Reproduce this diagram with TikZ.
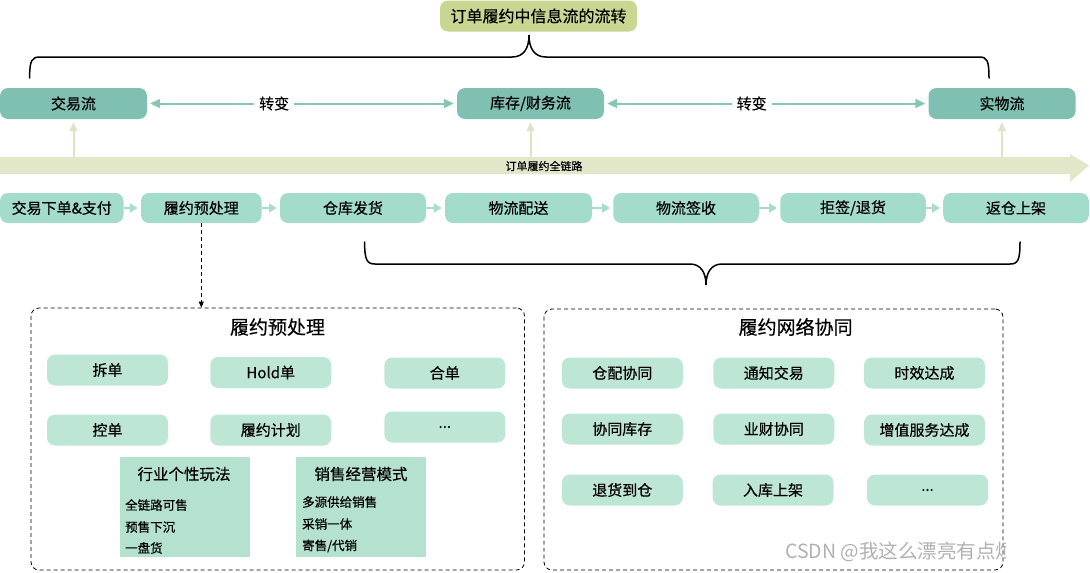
\documentclass[tikz,border=0pt]{standalone}
\usepackage{fontspec}
\setmainfont{Noto Sans CJK SC}[FakeBold=0.4]
\newfontfamily\wmfont{Noto Sans CJK SC}
\usetikzlibrary{arrows.meta, positioning}

\definecolor{titleolive}{HTML}{C8D692}
\definecolor{flowdark}{HTML}{80C0B2}
\definecolor{proclight}{HTML}{A4DCCB}
\definecolor{itemlight}{HTML}{BEE6D5}
\definecolor{panelgreen}{HTML}{B4E2CF}
\definecolor{arrowteal}{HTML}{86C6B6}
\definecolor{procarrowc}{HTML}{A8DCCE}
\definecolor{barolive}{HTML}{E2E7C9}
\definecolor{baruparrowc}{HTML}{DEE4C4}
\definecolor{wmgray}{HTML}{B0B0B0}

\begin{document}
\begin{tikzpicture}[x=1pt, y=-1pt,
    flowbox/.style={fill=flowdark, rounded corners=8pt, minimum width=147pt, minimum height=31pt, inner sep=0pt, font=\fontsize{15}{18}\selectfont},
    procbox/.style={fill=proclight, rounded corners=8pt, minimum height=30pt, inner sep=0pt, font=\fontsize{15}{18}\selectfont},
    itembox/.style={fill=itemlight, rounded corners=8pt, minimum width=121pt, minimum height=31pt, inner sep=0pt, font=\fontsize{15}{18}\selectfont},
    groupbox/.style={draw, line width=0.8pt, dash pattern=on 4pt off 3pt, rounded corners=8pt, inner sep=0pt},
    subpanel/.style={fill=panelgreen, minimum width=130pt, minimum height=100pt, inner sep=0pt},
    grouptitle/.style={font=\fontsize{19}{22}\selectfont, inner sep=0pt},
    subtitle/.style={font=\fontsize{15.5}{18}\selectfont, inner sep=0pt},
    listtext/.style={anchor=west, font=\fontsize{12.5}{14}\selectfont, inner sep=0pt},
    flowarrow/.style={draw=arrowteal, line width=2pt, {Triangle[length=10pt,width=9pt]}-{Triangle[length=10pt,width=9pt]}, shorten <=3pt, shorten >=3pt},
    procarrow/.style={draw=procarrowc, line width=2pt, -{Triangle[length=8pt,width=9pt]}, shorten >=3pt},
    uparrow/.style={draw=baruparrowc, line width=2pt, -{Triangle[length=9pt,width=8pt]}, shorten >=3pt},
    brace/.style={line width=1.5pt, line cap=round}]

    \useasboundingbox (0,0) rectangle (1090,573);

    % Title
    \node[fill=titleolive, rounded corners=8pt, minimum width=197pt, minimum height=31pt, inner sep=0pt, font=\fontsize{16}{18}\selectfont] (title) at (538.5,16) {订单履约中信息流的流转};

    % Top brace
    \draw[brace] (29.6,78) .. controls (29.6,60) and (32,57) .. (40,57) -- (512,57)
        .. controls (524,57) and (529,48) .. (529,35)
        .. controls (529,48) and (534,57) .. (546,57) -- (979,57)
        .. controls (987,57) and (989,60) .. (989,78);

    % Three flows
    \node[flowbox] (jyl) at (73.5,103.5) {交易流};
    \node[flowbox] (kcl) at (530.5,103.5) {库存/财务流};
    \node[flowbox] (swl) at (1002,103.5) {实物流};

    \draw[flowarrow] (jyl) -- node[pos=0.41, fill=white, inner xsep=5pt, inner ysep=1pt, font=\fontsize{15}{18}\selectfont] (zb1) {转变} (kcl);
    \draw[flowarrow] (kcl) -- node[pos=0.455, fill=white, inner xsep=5pt, inner ysep=1pt, font=\fontsize{15}{18}\selectfont] (zb2) {转变} (swl);

    % Full chain bar
    \fill[barolive] (0,157) -- (1070,157) -- (1070,154) -- (1089,165.5) -- (1070,182) -- (1070,174) -- (0,174) -- cycle;
    \coordinate (bartop) at (0,157);
    \node[font=\fontsize{11}{12}\selectfont, inner sep=0pt] (barlabel) at (544,166) {订单履约全链路};

    \foreach \n in {jyl, kcl, swl}
    {
        \draw[uparrow] (\n.south |- bartop) -- (\n.south);
    }

    % Process steps
    \node[procbox, minimum width=123.5pt] (p1) at (61.75,208) {交易下单\&支付};
    \node[procbox, minimum width=120.6pt] (p2) at (201.3,208) {履约预处理};
    \node[procbox, minimum width=146pt] (p3) at (353,208) {仓库发货};
    \node[procbox, minimum width=147pt] (p4) at (518.5,208) {物流配送};
    \node[procbox, minimum width=145.5pt] (p5) at (686,208) {物流签收};
    \node[procbox, minimum width=145.5pt] (p6) at (853,208) {拒签/退货};
    \node[procbox, minimum width=145.6pt] (p7) at (1016,208) {返仓上架};

    \foreach \a/\b in {p1/p2, p2/p3, p3/p4, p4/p5, p5/p6, p6/p7}
    {
        \draw[procarrow] (\a) -- (\b);
    }

    % Bottom brace
    \draw[brace] (364.6,242) .. controls (364.6,260) and (367,264) .. (375,264) -- (690,264)
        .. controls (701,264) and (706,273) .. (706,285)
        .. controls (706,273) and (711,264) .. (722,264) -- (1010,264)
        .. controls (1018,264) and (1020,260) .. (1020,242);

    % Pre-processing group
    \node[groupbox, minimum width=493.5pt, minimum height=262pt] (prep) at (277.75,439) {};
    \node[grouptitle] (prept) at (277.5,327) {履约预处理};
    \draw[line width=0.8pt, dash pattern=on 4pt off 3pt, -{Triangle[length=6pt,width=5pt]}] (p2.south) -- (p2.south |- prep.north);

    \node[itembox] (cd) at (107.5,370) {拆单};
    \node[itembox] (hd) at (270.75,372.5) {Hold单};
    \node[itembox] (hb) at (444.8,373) {合单};
    \node[itembox] (kd) at (107.5,430) {控单};
    \node[itembox] (jh) at (270.75,430) {履约计划};
    \node[itembox] (more1) at (444.8,427) {...};

    \node[subpanel] (hy) at (184.85,507) {};
    \node[subtitle] (hyt) at (184,474) {行业个性玩法};
    \node[listtext] (hy1) at (125,505) {全链路可售};
    \node[listtext] (hy2) at (125,527) {预售下沉};
    \node[listtext] (hy3) at (125,548) {一盘货};

    \node[subpanel] (xs) at (361,507) {};
    \node[subtitle] (xst) at (361,474) {销售经营模式};
    \node[listtext] (xs1) at (302,502) {多源供给销售};
    \node[listtext] (xs2) at (302,524) {采销一体};
    \node[listtext] (xs3) at (302,546) {寄售/代销};

    % Network collaboration group
    \node[groupbox, minimum width=459pt, minimum height=261pt] (net) at (773.5,439.5) {};
    \node[grouptitle] (nett) at (795.6,327) {履约网络协同};

    \node[itembox] (n11) at (622.3,373) {仓配协同};
    \node[itembox] (n12) at (773.8,373) {通知交易};
    \node[itembox] (n13) at (924.5,373) {时效达成};
    \node[itembox] (n21) at (622.3,429) {协同库存};
    \node[itembox] (n22) at (773.8,429) {业财协同};
    \node[itembox] (n23) at (924.5,430) {增值服务达成};
    \node[itembox] (n31) at (622.3,490) {退货到仓};
    \node[itembox] (n32) at (773,490) {入库上架};
    \node[itembox] (n33) at (927.5,490) {...};

    % Watermark
    \begin{scope}
        \clip (0,0) rectangle (1005,573);
        \node[anchor=west, text=wmgray, inner sep=0pt, font=\wmfont\fontsize{19.5}{20}\selectfont] (wm) at (785,552) {CSDN @我这么漂亮有点烦};
    \end{scope}
\end{tikzpicture}
\end{document}
